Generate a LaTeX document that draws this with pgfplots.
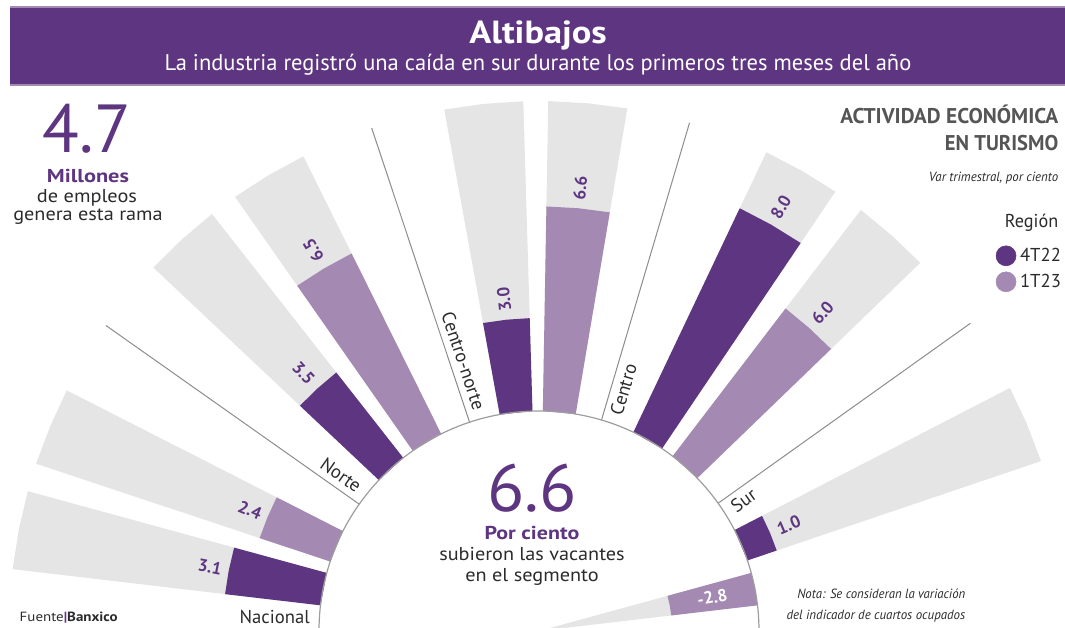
\documentclass[border=0pt]{standalone}
\usepackage{pgfplots}
\pgfplotsset{compat=1.18}
\usepackage{fontspec}
\setmainfont{PT Sans}

\definecolor{moradoosc}{HTML}{5E3580}
\definecolor{moradocla}{HTML}{A48AB3}
\definecolor{pista}{HTML}{E5E5E5}
\definecolor{linea}{HTML}{8C8C8C}
\definecolor{texto}{HTML}{2B2B2B}
\definecolor{gristit}{HTML}{555555}

\newcommand{\fs}[1]{\fontsize{#1}{#1}\selectfont}

\begin{document}
\begin{tikzpicture}[
  val/.style={font=\bfseries\fs{13}, text=moradoosc, inner sep=0pt},
  cat/.style={font=\fs{14}, text=texto, inner sep=0pt},
]
\begin{axis}[
  x=0.75pt, y=0.75pt,
  xmin=-539, xmax=526, ymin=3, ymax=631,
  hide axis,
  legend style={at={(0.935,0.609)}, anchor=north west, draw=none, fill=none,
    font=\fs{14}, text=texto, row sep=4.5pt, inner sep=0pt,
    nodes={inner sep=1.5pt},
    /tikz/every odd column/.append style={column sep=1.5pt}},
  legend cell align=left,
  fondo/.style={data cs=polar, fill=pista, draw=none},
  barosc/.style={data cs=polar, fill=moradoosc, draw=none},
  barcla/.style={data cs=polar, fill=moradocla, draw=none},
  divisor/.style={data cs=polar, draw=linea, line width=0.75pt},
]
% leyenda
\addlegendimage{only marks, mark=*, mark size=7.5pt, moradoosc}
\addlegendentry{4T22}
\addlegendimage{only marks, mark=*, mark size=7.5pt, moradocla}
\addlegendentry{1T23}

\coordinate (esqSO) at (axis cs:-539,3);
\coordinate (esqNE) at (axis cs:526,631);

% franja de titulo
\fill[moradoosc] (axis cs:-529,547) rectangle (axis cs:526,623);
\draw[moradocla, line width=0.8pt] (axis cs:-529,624) -- (axis cs:526,624);
\draw[moradocla, line width=0.8pt] (axis cs:-529,546) -- (axis cs:526,546);
\node[anchor=base, white, font=\bfseries\fs{24}] at (axis cs:-1,587)
  {\resizebox{103pt}{\height}{Altibajos}};
\node[anchor=base, white, font=\fs{17}] at (axis cs:-1,560)
  {\resizebox{560pt}{\height}{La industria registró una caída en sur durante los primeros tres meses del año}};

% pistas grises (radio interior 220, 31 px por unidad, tope 10)
\addplot[fondo] coordinates {(164.7,220)(173.3,220)(173.3,530)(169,530)(164.7,530)} --cycle;
\addplot[fondo] coordinates {(153.0,220)(161.6,220)(161.6,530)(157.3,530)(153.0,530)} --cycle;
\addplot[fondo] coordinates {(128.1,220)(136.7,220)(136.7,530)(132.4,530)(128.1,530)} --cycle;
\addplot[fondo] coordinates {(116.4,220)(125.0,220)(125.0,530)(120.7,530)(116.4,530)} --cycle;
\addplot[fondo] coordinates {(91.7,220)(100.3,220)(100.3,530)(96,530)(91.7,530)} --cycle;
\addplot[fondo] coordinates {(80.4,220)(89.0,220)(89.0,530)(84.7,530)(80.4,530)} --cycle;
\addplot[fondo] coordinates {(56.0,220)(64.6,220)(64.6,530)(60.3,530)(56.0,530)} --cycle;
\addplot[fondo] coordinates {(44.0,220)(52.6,220)(52.6,530)(48.3,530)(44.0,530)} --cycle;
\addplot[fondo] coordinates {(18.7,220)(27.3,220)(27.3,530)(23,530)(18.7,530)} --cycle;
\addplot[fondo] coordinates {(11,0)(15.3,220)(11,220)(6.7,220)} --cycle;

% barras: Nacional 3.1 / 2.4
\addplot[barosc] coordinates {(164.7,220)(173.3,220)(173.3,316.1)(169,316.1)(164.7,316.1)} --cycle;
\addplot[barcla] coordinates {(153.0,220)(161.6,220)(161.6,294.4)(157.3,294.4)(153.0,294.4)} --cycle;
% Norte 3.5 / 6.5
\addplot[barosc] coordinates {(128.1,220)(136.7,220)(136.7,328.5)(132.4,328.5)(128.1,328.5)} --cycle;
\addplot[barcla] coordinates {(116.4,220)(125.0,220)(125.0,421.5)(120.7,421.5)(116.4,421.5)} --cycle;
% Centro-norte 3.0 / 6.6
\addplot[barosc] coordinates {(91.7,220)(100.3,220)(100.3,313)(96,313)(91.7,313)} --cycle;
\addplot[barcla] coordinates {(80.4,220)(89.0,220)(89.0,424.6)(84.7,424.6)(80.4,424.6)} --cycle;
% Centro 8.0 / 6.0
\addplot[barosc] coordinates {(56.0,220)(64.6,220)(64.6,468)(60.3,468)(56.0,468)} --cycle;
\addplot[barcla] coordinates {(44.0,220)(52.6,220)(52.6,406)(48.3,406)(44.0,406)} --cycle;
% Sur 1.0 / -2.8
\addplot[barosc] coordinates {(18.7,220)(27.3,220)(27.3,251)(23,251)(18.7,251)} --cycle;
\addplot[barcla] coordinates {(6.7,133.2)(11,133.2)(15.3,133.2)(15.3,220)(11,220)(6.7,220)} --cycle;

% divisores
\addplot[divisor] coordinates {(144.8,220)(144.8,530)};
\addplot[divisor] coordinates {(108.4,220)(108.4,530)};
\addplot[divisor] coordinates {(73.5,220)(73.5,530)};
\addplot[divisor] coordinates {(35.5,220)(35.5,530)};
\draw[color=linea!85, line width=0.9pt] (axis cs:220,0) arc[start angle=0, end angle=180, radius=165pt];

% etiquetas de valores
\path (axis cs:0,0) ++(169:{323*0.75pt}) node[val, anchor=east, rotate=-11] {3.1};
\path (axis cs:0,0) ++(157.3:{301*0.75pt}) node[val, anchor=east, rotate=-22.7] {2.4};
\path (axis cs:0,0) ++(132.4:{337*0.75pt}) node[val, anchor=east, rotate=-47.6] {3.5};
\path (axis cs:0,0) ++(120.7:{430*0.75pt}) node[val, anchor=west, rotate=120.7] {6.5};
\path (axis cs:0,0) ++(96:{321*0.75pt}) node[val, anchor=west, rotate=96] {3.0};
\path (axis cs:0,0) ++(84.7:{433*0.75pt}) node[val, anchor=west, rotate=84.7] {6.6};
\path (axis cs:0,0) ++(60.3:{476*0.75pt}) node[val, anchor=west, rotate=60.3] {8.0};
\path (axis cs:0,0) ++(48.3:{414*0.75pt}) node[val, anchor=west, rotate=48.3] {6.0};
\path (axis cs:0,0) ++(23:{259*0.75pt}) node[val, anchor=west, rotate=23] {1.0};
\path (axis cs:0,0) ++(11:{176.6*0.75pt}) node[val, text=white, anchor=center, rotate=11] {-2.8};

% etiquetas de region
\path (axis cs:0,0) ++(180:{229*0.75pt}) ++(90:5.25pt) node[cat, anchor=base east] {Nacional};
\path (axis cs:0,0) ++(144.8:{229*0.75pt}) ++(54.8:5.25pt) node[cat, anchor=base east, rotate=-35.2] {Norte};
\path (axis cs:0,0) ++(108.4:{229*0.75pt}) ++(18.4:5.25pt) node[cat, anchor=base east, rotate=-71.6] {Centro-norte};
\path (axis cs:0,0) ++(73.5:{229*0.75pt}) ++(-16.5:4pt) node[cat, anchor=north west, rotate=73.5] {Centro};
\path (axis cs:0,0) ++(35.5:{229*0.75pt}) ++(-54.5:4pt) node[cat, anchor=north west, rotate=35.5] {Sur};

% textos laterales
\node[anchor=base, text=moradoosc, font=\fs{51}] at (axis cs:-452,478) {\resizebox{66pt}{\height}{4.7}};
\node[anchor=base, text=moradoosc, font=\bfseries\fs{14}] at (axis cs:-451,448) {\resizebox{61.5pt}{\height}{Millones}};
\node[anchor=base, text=texto, font=\fs{14}] at (axis cs:-452,428) {\resizebox{75pt}{\height}{de empleos}};
\node[anchor=base, text=texto, font=\fs{14}] at (axis cs:-451,410) {\resizebox{112pt}{\height}{genera esta rama}};

\node[anchor=base east, text=gristit, font=\bfseries\fs{16}] at (axis cs:524,507) {\resizebox{163.5pt}{\height}{ACTIVIDAD ECONÓMICA}};
\node[anchor=base east, text=gristit, font=\bfseries\fs{16}] at (axis cs:524,480) {\resizebox{85pt}{\height}{EN TURISMO}};
\node[anchor=base east, text=texto, font=\itshape\fs{10}] at (axis cs:524,449) {\resizebox{97pt}{\height}{Var trimestral, por ciento}};
\node[anchor=base east, text=texto, font=\fs{14}] at (axis cs:524,403) {\resizebox{40pt}{\height}{Región}};

\node[anchor=base, text=moradoosc, font=\fs{50}] at (axis cs:-7,119) {\resizebox{67pt}{\height}{6.6}};
\node[anchor=base, text=moradoosc, font=\bfseries\fs{14}] at (axis cs:-7,91) {\resizebox{71pt}{\height}{Por ciento}};
\node[anchor=base, text=texto, font=\fs{14}] at (axis cs:-7,70) {\resizebox{139pt}{\height}{subieron las vacantes}};
\node[anchor=base, text=texto, font=\fs{14}] at (axis cs:-7,49) {\resizebox{100pt}{\height}{en el segmento}};

\node[anchor=base west, text=texto, font=\fs{10}] at (axis cs:-524,9)
  {\resizebox{73.5pt}{\height}{Fuente{\color{moradoosc}\textbf{|}}\textbf{Banxico}}};
\node[anchor=base east, text=texto, font=\itshape\fs{10}] at (axis cs:431,32) {\resizebox{126pt}{\height}{Nota: Se consideran la variación}};
\node[anchor=base east, text=texto, font=\itshape\fs{10}] at (axis cs:431,11) {\resizebox{134pt}{\height}{del indicador de cuartos ocupados}};
\end{axis}
\pgfresetboundingbox
\path[use as bounding box] (esqSO) rectangle (esqNE);
\end{tikzpicture}
\end{document}
